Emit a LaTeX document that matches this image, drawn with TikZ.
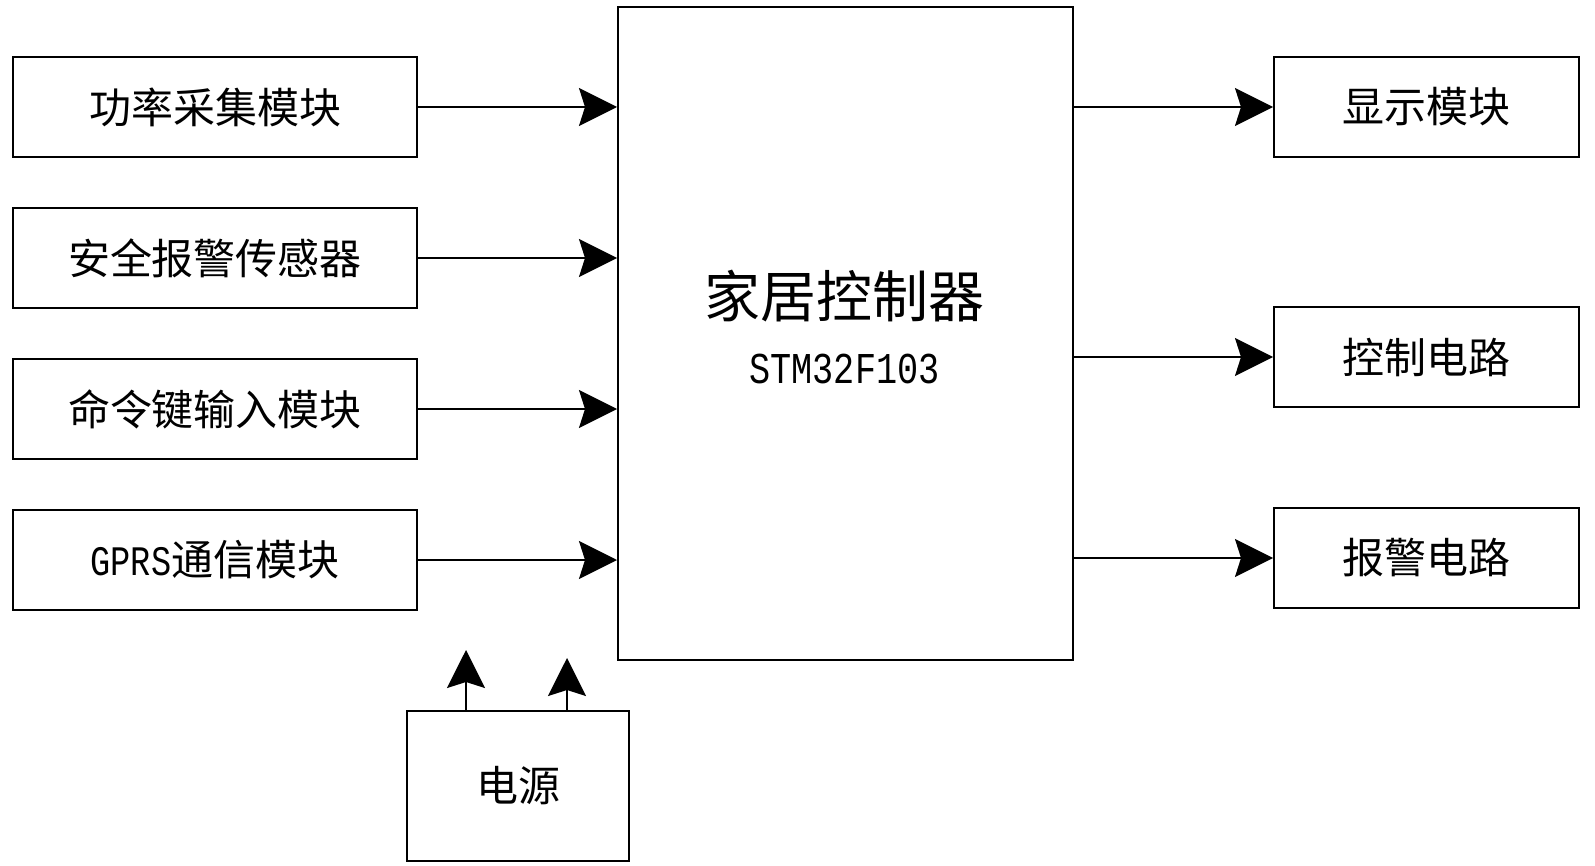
\documentclass[tikz,border=0pt]{standalone}
\usepackage{fontspec}
\newfontfamily\cjk{Noto Sans CJK SC}
\newfontfamily\latinmono[FakeStretch=0.8]{Liberation Mono}
\usetikzlibrary{arrows.meta,
                positioning}
\tikzset{block/.style =
   {rectangle,
    draw,
    line width=1pt,
    text centered,
    inner sep=0pt,
    font=\cjk\fontsize{21}{25}\selectfont}}
\tikzset{inblock/.style =
   {block,
    minimum width=202pt,
    minimum height=50pt}}
\tikzset{outblock/.style =
   {block,
    minimum width=152.5pt,
    minimum height=50pt}}
\tikzset{arrow/.style = {draw, line width=1pt, -{Stealth[length=19pt, width=19pt, inset=3pt]}}}

\begin{document}
\begin{tikzpicture}[x=0.5pt, y=-0.5pt]
    \useasboundingbox (0,0) rectangle (1595,866);

    % controller
    \node [block,
           minimum width=227.5pt,
           minimum height=326.5pt,
           anchor=north west] (ctrl) at (617,6) {};
    \node [font=\cjk\fontsize{28}{32}\selectfont] (ctrlname) at (844.5,296) {家居控制器};
    \node [font=\latinmono\fontsize{22}{26}\selectfont,
           node distance=9pt,
           below=of ctrlname] (chip) {STM32F103};

    % inputs
    \node [inblock, anchor=north west] (collect) at (12,56) {功率采集模块};
    \node [inblock, node distance=24.5pt, below=of collect] (sensor) {安全报警传感器};
    \node [inblock, node distance=24.5pt, below=of sensor] (keys) {命令键输入模块};
    \node [inblock, node distance=24.5pt, below=of keys] (gprs) {{\latinmono GPRS}通信模块};

    % outputs
    \node [outblock, anchor=north west] (display) at (1273,56) {显示模块};
    \node [outblock, node distance=74pt, below=of display] (drive) {控制电路};
    \node [outblock, node distance=49.5pt, below=of drive] (alarm) {报警电路};

    % power supply
    \node [block,
           minimum width=111pt,
           minimum height=75pt,
           anchor=north west] (supply) at (406,710) {电源};
    \coordinate (tipa) at (466,650);
    \coordinate (tipb) at (567,658);

    \draw [arrow] (collect.east) -- (collect.east -| ctrl.west);
    \draw [arrow] (sensor.east) -- (sensor.east -| ctrl.west);
    \draw [arrow] (keys.east) -- (keys.east -| ctrl.west);
    \draw [arrow] (gprs.east) -- (gprs.east -| ctrl.west);

    \draw [arrow] (ctrl.east |- display.west) -- (display.west);
    \draw [arrow] (ctrl.east |- drive.west) -- (drive.west);
    \draw [arrow] (ctrl.east |- alarm.west) -- (alarm.west);

    \draw [arrow] (supply.north -| tipa) -- (tipa);
    \draw [arrow] (supply.north -| tipb) -- (tipb);

\end{tikzpicture}
\end{document}
